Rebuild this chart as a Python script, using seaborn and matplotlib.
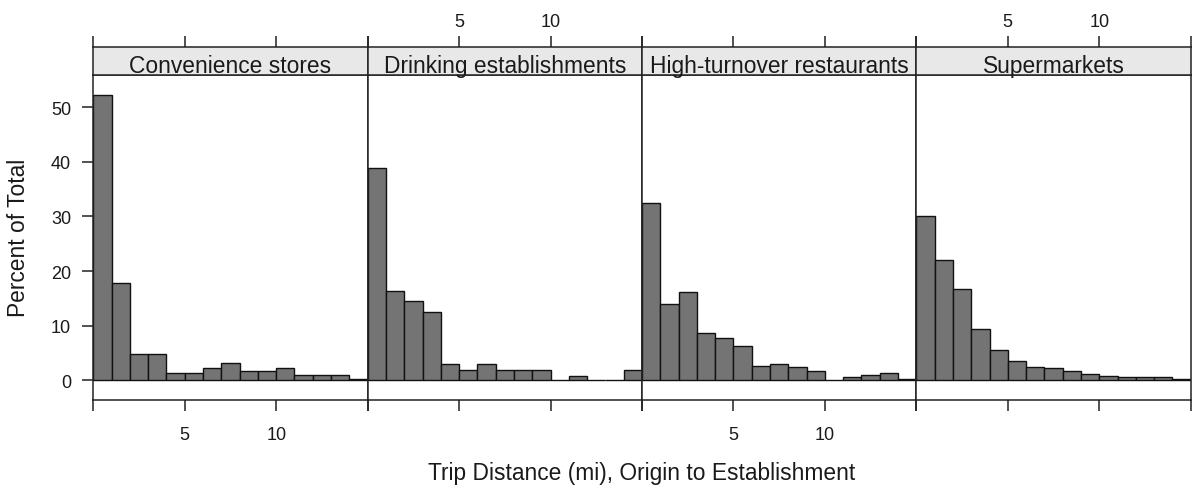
import numpy as np
import pandas as pd
import matplotlib
matplotlib.use("Agg")
import matplotlib.pyplot as plt
import seaborn as sns

# ---- data ----
panels = ["Convenience stores", "Drinking establishments",
          "High-turnover restaurants", "Supermarkets"]
convenience = [52.2, 17.8, 4.9, 4.9, 1.4, 1.4, 2.2, 3.1, 1.8, 1.8, 2.2, 0.9, 0.9, 0.9, 0.3]
drinking    = [38.8, 16.4, 14.5, 12.6, 3.0, 1.9, 3.0, 1.9, 1.9, 1.9, 0.0, 0.8, 0.0, 0.0, 1.9]
highturn    = [32.4, 14.0, 16.2, 8.6, 7.8, 6.2, 2.7, 3.0, 2.4, 1.65, 0.0, 0.6, 1.0, 1.4, 0.3]
supermkt    = [30.1, 22.1, 16.7, 9.4, 5.6, 3.6, 2.5, 2.2, 1.7, 1.2, 0.86, 0.6, 0.6, 0.6, 0.25]
series = [convenience, drinking, highturn, supermkt]
x_ticks = [0, 5, 10, 15]
x_tick_labels = ["", "5", "10", ""]
y_ticks = [0, 10, 20, 30, 40, 50]

x_lo, x_hi = 0, 15
n_bins = 15
edges = np.linspace(x_lo, x_hi, n_bins + 1)
centers = (edges[:-1] + edges[1:]) / 2

sns.set_style("white")
plt.rcParams["font.family"] = ["Liberation Sans", "DejaVu Sans"]

W, H = 1192, 489
fig = plt.figure(figsize=(W / 100, H / 100), dpi=100)

left0, right_end = 93.3, 1190.7
pw = (right_end - left0) / 4
y_top_panel, y_bot_panel = 76, 401
strip_top = 48

bar_color = "#747474"
strip_color = "#e8e8e8"
line_color = "#222222"
text_color = "#1a1a1a"
tick_len = 11 / 1.389
fs_tick = 13
fs_strip = 16.4
fs_lab = 16.4

for i, (name, vals) in enumerate(zip(panels, series)):
    lx = left0 + i * pw
    ax = fig.add_axes([lx / W, (H - y_bot_panel) / H, pw / W, (y_bot_panel - y_top_panel) / H])
    sax = fig.add_axes([lx / W, (H - y_top_panel) / H, pw / W, (y_top_panel - strip_top) / H])

    df = pd.DataFrame({"dist": centers, "pct": vals})
    sns.histplot(data=df, x="dist", weights="pct", bins=n_bins, binrange=(x_lo, x_hi),
                 ax=ax, color=bar_color, edgecolor="#111111", linewidth=1.0,
                 alpha=1.0, stat="count")
    ax.set_xlim(x_lo, x_hi)
    ax.set_ylim(-3.6, 55.9)
    ax.set_xlabel("")
    ax.set_ylabel("")
    ax.set_facecolor("white")
    for sp in ax.spines.values():
        sp.set_visible(True)
        sp.set_color(line_color)
        sp.set_linewidth(1.1)

    ax.set_xticks(x_ticks, labels=x_tick_labels if i % 2 == 0 else [""] * len(x_ticks))
    ax.tick_params(axis="x", direction="out", length=tick_len, width=1.1, color=line_color,
                   labelsize=fs_tick, labelcolor=text_color, bottom=True, top=False,
                   labelbottom=True, labeltop=False, pad=11)
    if i == 0:
        ax.set_yticks(y_ticks)
        ax.tick_params(axis="y", direction="out", length=tick_len, width=1.1, color=line_color,
                       labelsize=fs_tick, labelcolor=text_color, left=True, right=False,
                       labelleft=True, pad=8)
    else:
        ax.set_yticks([])

    # strip
    sax.set_facecolor(strip_color)
    sax.set_xlim(x_lo, x_hi)
    sax.set_ylim(0, 1)
    sax.set_yticks([])
    for sp in sax.spines.values():
        sp.set_visible(True)
        sp.set_color(line_color)
        sp.set_linewidth(1.1)
    sax.set_xticks(x_ticks, labels=x_tick_labels if i % 2 == 1 else [""] * len(x_ticks))
    sax.tick_params(axis="x", direction="out", length=tick_len, width=1.1, color=line_color,
                    labelsize=fs_tick, labelcolor=text_color, bottom=False, top=True,
                    labelbottom=False, labeltop=True, pad=4.5)
    sax.text(0.5, 0.12, name, transform=sax.transAxes, ha="center", va="baseline",
             fontsize=fs_strip, color=text_color)

fig.text(30 / W, (H - 238) / H, "Percent of Total", rotation=90, ha="right", va="center",
         fontsize=fs_lab, color=text_color)
fig.text(642 / W, (H - 480) / H, "Trip Distance (mi), Origin to Establishment",
         ha="center", va="baseline", fontsize=fs_lab, color=text_color)

fig.savefig("out.png", dpi=100, facecolor="white")
